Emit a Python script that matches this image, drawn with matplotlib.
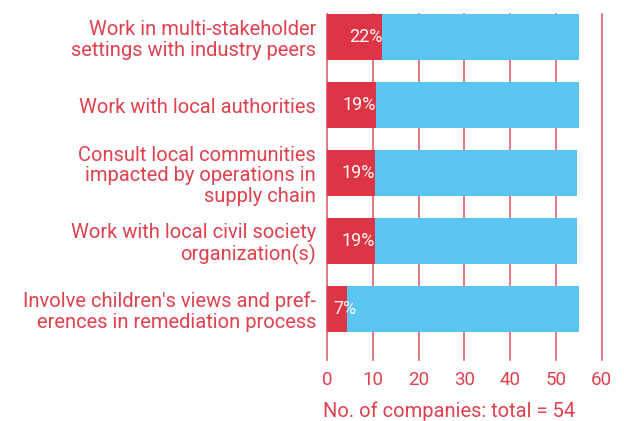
import matplotlib.pyplot as plt
import numpy as np

# Bar data
categories = [
    "Work in multi-stakeholder\nsettings with industry peers",
    "Work with local authorities",
    "Consult local communities\nimpacted by operations in\nsupply chain",
    "Work with local civil society\norganization(s)",
    "Involve children's views and pref-\nerences in remediation process",
]
red_values = [12.1, 10.6, 10.4, 10.4, 4.3]
bar_totals = [55, 55, 54.7, 54.7, 55]
pct_labels = ["22%", "19%", "19%", "19%", "7%"]
x_ticks = [0, 10, 20, 30, 40, 50, 60]

RED = '#de3546'
BLUE = '#5bc5f2'
TEXT = '#e0414f'
GRID = '#e0606c'

plt.rcParams['font.family'] = ['Roboto', 'DejaVu Sans']

fig = plt.figure(figsize=(6.24, 4.21), dpi=100)
ax = fig.add_axes([327 / 624, 1 - 360 / 421, 276 / 624, 346 / 421])

y = np.arange(len(categories))
blue_values = [t - r for t, r in zip(bar_totals, red_values)]
ax.barh(y, red_values, height=0.68, color=RED, zorder=2)
ax.barh(y, blue_values, left=red_values, height=0.68, color=BLUE, zorder=2)

for yi, val, lab in zip(y, red_values, pct_labels):
    ax.text(max(val, 6.5), yi, lab, ha='right', va='center',
            color='white', fontsize=13, alpha=0.95, zorder=3)

for xt in x_ticks:
    ax.axvline(xt, color=GRID, lw=1.2, zorder=1, clip_on=False)

ax.set_xlim(0, 60.3)
ax.set_ylim(4.75, -0.34)
ax.set_xticks(x_ticks)
ax.set_xticklabels([str(v) for v in x_ticks], color=TEXT, fontsize=13.5)
ax.set_yticks(y)
ax.set_yticklabels(categories, color=TEXT, fontsize=14.5, linespacing=1.12)
ax.tick_params(length=0)
ax.tick_params(axis='y', pad=8)
ax.tick_params(axis='x', pad=8)
for s in ax.spines.values():
    s.set_visible(False)

ax.set_xlabel('No. of companies: total = 54', color=TEXT, fontsize=14.5,
              loc='left', labelpad=9)
ax.xaxis.label.set_x(-0.015)

fig.savefig('out.png', dpi=100)
